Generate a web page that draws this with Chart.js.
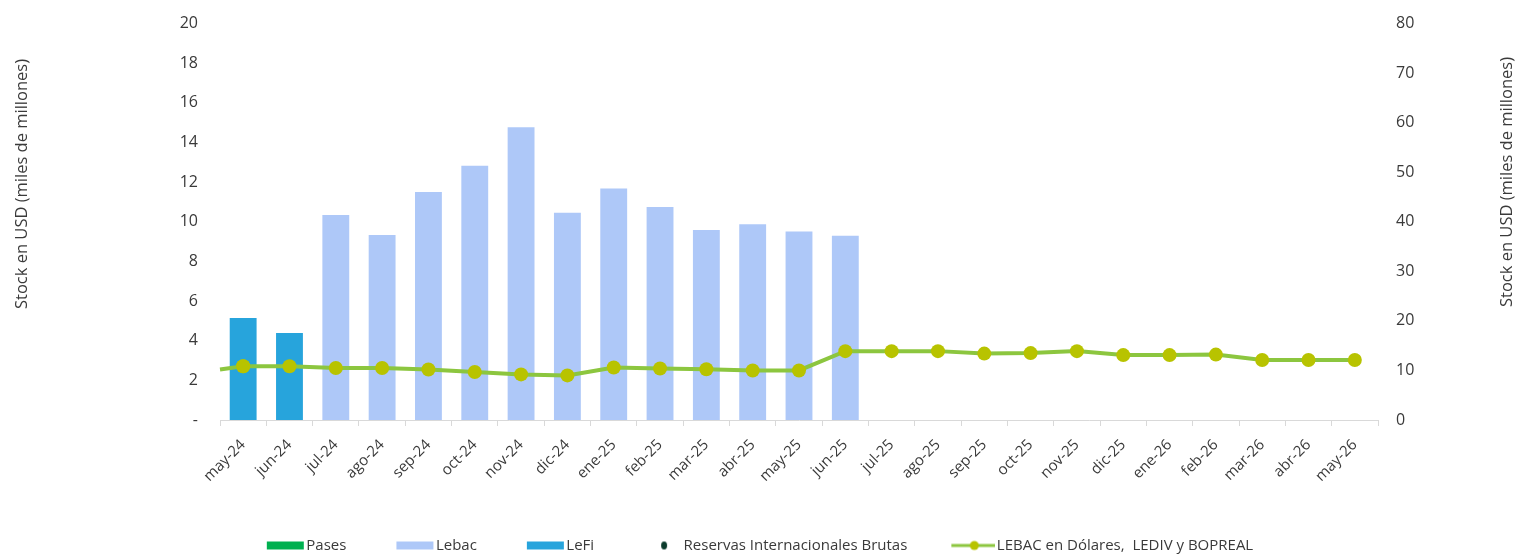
<!DOCTYPE html>
<html>
<head>
<meta charset="utf-8">
<script src="https://cdn.jsdelivr.net/npm/chart.js@4.4.1/dist/chart.umd.min.js"></script>
<style>
  html, body { margin: 0; padding: 0; background: #ffffff; }
  #wrap { width: 1516px; height: 554px; position: relative; overflow: hidden; }
</style>
</head>
<body>
<div id="wrap"><canvas id="c" width="1516" height="554"></canvas></div>
<script>
// ---- Data ----
const categories = ['may-24','jun-24','jul-24','ago-24','sep-24','oct-24','nov-24','dic-24','ene-25','feb-25','mar-25','abr-25','may-25','jun-25','jul-25','ago-25','sep-25','oct-25','nov-25','dic-25','ene-26','feb-26','mar-26','abr-26','may-26'];
const pases = [null,null,null,null,null,null,null,null,null,null,null,null,null,null,null,null,null,null,null,null,null,null,null,null,null];
const lebac = [null,null,10.34,9.34,11.5,12.83,14.77,10.46,11.68,10.75,9.59,9.88,9.51,9.29,null,null,null,null,null,null,null,null,null,null,null];
const lefi = [5.15,4.39,null,null,null,null,null,null,null,null,null,null,null,null,null,null,null,null,null,null,null,null,null,null,null];
const reservas = [null,null,null,null,null,null,null,null,null,null,null,null,null,null,null,null,null,null,null,null,null,null,null,null,null];
const lebacUsd = [10.85,10.85,10.5,10.5,10.2,9.7,9.2,9.0,10.6,10.4,10.25,10.0,10.0,13.9,13.9,13.9,13.4,13.5,13.9,13.1,13.1,13.2,12.1,12.1,12.1];
const lebacUsdPrev = 10.2; // value of the line at the left edge (previous period)
const leftTicks = [0,2,4,6,8,10,12,14,16,18,20];
const rightTicks = [0,10,20,30,40,50,60,70,80];
const axisTitle = 'Stock en USD (miles de millones)';

// ---- Styles ----
const C_PASES = '#00b050';
const C_LEBAC = '#aec8f8';
const C_LEFI = '#27a4dc';
const C_RES = '#0b3b2c';
const C_LINE = '#8cc63f';
const C_DOT = '#b8c300';
const FONT = "'Open Sans', sans-serif";
const TXT = '#3a3a3a';
const LEG_W = 80;          // legend slot width used by Chart.js
const LEG_CW = LEG_W + 12; // drawn canvas width (overflows slot by 6px each side)
const LEG_SHIFT = -22;     // horizontal nudge of the legend row

function legendCanvas(kind, color) {
  const W = LEG_CW, H = 16;
  const cv = document.createElement('canvas');
  cv.width = W; cv.height = H;
  const g = cv.getContext('2d');
  if (kind === 'box') {
    g.fillStyle = color;
    g.fillRect(W - 38, 4, 37, 8);
  } else if (kind === 'dot') {
    g.fillStyle = color;
    g.beginPath(); g.ellipse(W - 18, 8, 3, 4, 0, 0, Math.PI * 2); g.fill();
  } else if (kind === 'line') {
    g.strokeStyle = C_LINE; g.lineWidth = 3;
    g.beginPath(); g.moveTo(W - 44, 8); g.lineTo(W, 8); g.stroke();
    g.fillStyle = C_DOT;
    g.beginPath(); g.arc(W - 21, 8, 4.5, 0, Math.PI * 2); g.fill();
  }
  return cv;
}
const legendStyles = [
  legendCanvas('box', C_PASES),
  legendCanvas('box', C_LEBAC),
  legendCanvas('box', C_LEFI),
  legendCanvas('dot', C_RES),
  legendCanvas('line')
];

const titlesPlugin = {
  id: 'axisTitles',
  afterDraw(chart) {
    const ctx = chart.ctx;
    const draw = (x, y) => {
      ctx.save();
      ctx.fillStyle = TXT;
      ctx.font = "16.5px " + FONT;
      ctx.textAlign = 'center';
      ctx.textBaseline = 'middle';
      ctx.translate(x, y); ctx.rotate(-Math.PI / 2); ctx.fillText(axisTitle, 0, 0);
      ctx.restore();
    };
    draw(22, 184);
    draw(1507, 182);
  }
};

const legendShiftPlugin = {
  id: 'legendShift',
  afterLayout(chart) {
    if (chart.legend) { chart.legend.left += LEG_SHIFT; chart.legend.right += LEG_SHIFT; }
  }
};

// leading line segment from left edge (previous period value) to first point
const leadPlugin = {
  id: 'leadSeg',
  afterDatasetsDraw(chart) {
    const meta = chart.getDatasetMeta(4);
    if (!meta || !meta.data.length) return;
    const yS = chart.scales.y2;
    const p0 = meta.data[0];
    const ctx = chart.ctx;
    ctx.save();
    ctx.strokeStyle = C_LINE; ctx.lineWidth = 4;
    ctx.beginPath();
    ctx.moveTo(chart.chartArea.left, yS.getPixelForValue(lebacUsdPrev));
    ctx.lineTo(p0.x, p0.y);
    ctx.stroke();
    ctx.fillStyle = C_DOT;
    ctx.beginPath(); ctx.arc(p0.x, p0.y, 7, 0, Math.PI * 2); ctx.fill();
    ctx.restore();
  }
};

new Chart(document.getElementById('c'), {
  type: 'bar',
  data: {
    labels: categories,
    datasets: [
      { label: 'Pases', data: pases, backgroundColor: C_PASES, yAxisID: 'y', grouped: false, order: 2, barPercentage: 0.58, categoryPercentage: 1 },
      { label: 'Lebac', data: lebac, backgroundColor: C_LEBAC, yAxisID: 'y', grouped: false, order: 2, barPercentage: 0.58, categoryPercentage: 1 },
      { label: 'LeFi', data: lefi, backgroundColor: C_LEFI, yAxisID: 'y', grouped: false, order: 2, barPercentage: 0.58, categoryPercentage: 1 },
      { type: 'line', label: 'Reservas Internacionales Brutas', data: reservas, yAxisID: 'y2', borderColor: C_RES, backgroundColor: C_RES, showLine: false, order: 1 },
      { type: 'line', label: 'LEBAC en Dólares,  LEDIV y BOPREAL', data: lebacUsd, yAxisID: 'y2', borderColor: C_LINE, borderWidth: 4, backgroundColor: C_DOT, pointBackgroundColor: C_DOT, pointBorderColor: C_DOT, pointBorderWidth: 0, pointRadius: 7, pointHoverRadius: 7, tension: 0, order: 0 }
    ]
  },
  options: {
    responsive: false,
    animation: false,
    events: [],
    layout: { padding: { top: 19, right: 0, left: 0, bottom: -9 } },
    plugins: {
      tooltip: { enabled: false },
      legend: {
        position: 'bottom',
        labels: {
          usePointStyle: true,
          pointStyleWidth: LEG_W,
          boxHeight: 15,
          padding: 2,
          color: TXT,
          font: { family: FONT, size: 15 },
          generateLabels(chart) {
            const items = Chart.defaults.plugins.legend.labels.generateLabels(chart);
            items.sort((a, b) => a.datasetIndex - b.datasetIndex);
            items.forEach(it => { it.pointStyle = legendStyles[it.datasetIndex]; it.lineWidth = 0; });
            return items;
          }
        }
      }
    },
    scales: {
      x: {
        offset: true,
        grid: { display: true, drawOnChartArea: false, offset: true, color: '#d9d9d9', tickLength: 6 },
        border: { display: true, color: '#d9d9d9' },
        ticks: { color: TXT, font: { family: FONT, size: 15 }, minRotation: 45, maxRotation: 45, autoSkip: false, padding: 10 },
        afterFit(s) { s.height = 116; }
      },
      y: {
        position: 'left',
        min: 0, max: 20,
        afterBuildTicks(s) { s.ticks = leftTicks.map(v => ({ value: v })); },
        ticks: { color: TXT, font: { family: FONT, size: 16 }, padding: 14, callback: v => v === 0 ? '-' : String(v) },
        grid: { display: false },
        border: { display: false },
        afterFit(s) { s.width = 220; }
      },
      y2: {
        position: 'right',
        min: 0, max: 80,
        afterBuildTicks(s) { s.ticks = rightTicks.map(v => ({ value: v })); },
        ticks: { color: TXT, font: { family: FONT, size: 16 }, padding: 10 },
        grid: { display: false },
        border: { display: false },
        afterFit(s) { s.width = 138; }
      }
    }
  },
  plugins: [titlesPlugin, leadPlugin, legendShiftPlugin]
});
</script>
</body>
</html>
